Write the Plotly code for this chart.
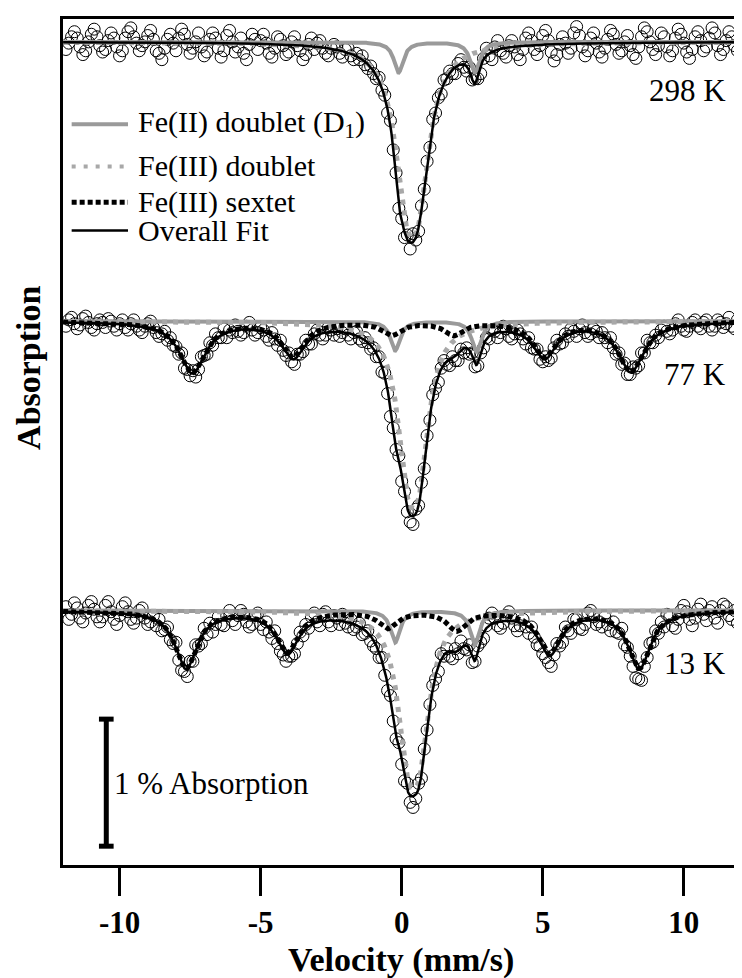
import numpy as np
import plotly.graph_objects as go

# ---------------- data ----------------
# velocity channels (mm/s): start and step of the measured points
V_START, V_STEP = -11.9, 0.1

# measured absorption of each spectrum, in units of 0.01 % (positive = absorption)
abs_298K = [
    6, 1, -4, -8, -3, 4, 10, 7, 0, -6, -10, -4, 3, 8, 6, -1, -7, -3, 4, 11, 7, -3, -8, -11, -4, 1, 7, 3,
    0, -5, -9, -2, 7, 9, 14, 5, -2, -6, 1, 7, -3, -10, -6, 2, 9, 5, 0, -7, 4, 11, 8, -2, -7, -3, 5, 12, 7, -5,
    -9, 0, 8, 4, -3, 9, 14, 2, -6, -2,
    6, -1, -6, 1, 9, 12, 5, -4, -2, 3, 10, 8, 0, -4, 3, 7, 14, 10, 2, -3,
    6, 1, -1, 5, 9, 11, 5, 2, 4, 9, 12, 6, 5, 11, 14, 9, 14, 11, 18, 21, 19, 25,
    29, 28, 38, 42, 56, 62, 85, 103, 131, 139, 154, 152, 163, 151, 156, 149, 129, 116, 94, 83, 61, 56, 44, 41, 30, 29,
    23, 25, 25, 17, 14, 20, 23, 20, 30, 29, 29, 25, 13, 5, 11, 14, 4, -1, 7, 9, 12, 3, -1, 4,
    10, 14, 6, -3, -7, -1, 6, 10, 3, -5, -9, -1, 8, 15, 10, 2, -4, 1, 9, 5,
    -7, -12, -5, 4, 11, 7, -3, -7, 1, 8, 12, 5, -2, -9, -6, 2, 9, 7, 0, -5,
    3, 10, 13, 4, -4, -11, -8, 0, 6, 10, 3, -7, -4, 4, 11, 7, -3, -10, -6, 1,
    8, 13, 6, -4, -8, -1, 7, 4, -3, -11, -7, 3, 10, 6, -1, -8, -4, 3, 7,
]
abs_77K = [
    4, -1, -3, 2, 6, 3, -2, -4, 1, 5, 7, 2, -1, 1, 5, -2, 0, 4, 7, 2,
    -1, 5, 7, 2, -1, 4, 7, 9, 4, 2, 0, 5, 9, 12, 10, 8, 15, 13, 19, 20,
    26, 25, 37, 38, 43, 39, 44, 38, 28, 27, 26, 17, 19, 10, 13, 13, 6, 13, 7, 9,
    3, 8, 11, 9, 4, 1, 7, 11, 9, 5, 7, 12, 15, 9, 14, 19, 15, 23, 27, 25,
    32, 34, 26, 26, 24, 15, 18, 18, 10, 7, 11, 14, 11, 5, 7, 11, 6, 12, 9, 6,
    11, 14, 9, 8, 14, 16, 13, 17, 22, 21,
    28, 28, 40, 41, 57, 75, 84, 101, 106, 126, 134, 150, 158, 160, 148, 145, 127, 116, 90, 78,
    58, 53, 48, 37, 31, 34, 35, 28, 31, 31, 22, 25, 21, 26, 25, 36, 35, 25, 21, 13,
    14, 7, 8, 13, 9, 4, 6, 12, 14, 10, 7, 10, 14, 18, 13, 21, 22, 22, 30, 32,
    28, 31, 29, 21, 15, 18, 17, 10, 12, 6, 8, 12, 6, 3, 9, 12, 10, 6, 8, 13,
    9, 13, 17, 13, 21, 26, 25, 34, 33, 42, 42, 36, 37, 35, 25, 25, 15, 17, 17, 11,
    13, 7, 4, 8, 10, 7, 2, -1, 4, 7, 8, 4, 1, -1, 4, 6, 1, -1, 4, 7,
    4, -1, 1, 5, 2, -3, 4, 6, -1,
]
abs_13K = [
    -3, 7, 3, -6, -2, 6, 9, 2, -4, -7, -1, 5, 9, 5, -4, -7, 1, 7, 11, 4,
    -3, -6, 1, 7, 10, 6, 0, -2, 6, 11, 9, 4, 12, 7, 16, 15, 13, 23, 26, 25,
    39, 47, 48, 52, 40, 40, 27, 28, 26, 14, 19, 10, 17, 11, 5, 11, 12, 4, 0, 8,
    11, 4, 0, 3, 9, 13, 11, 4, 2, 11, 15, 9, 17, 22, 16, 26, 32, 35, 40, 36,
    36, 34, 26, 17, 20, 11, 14, 5, 2, 9, 12, 3, 1, 9, 12, 4, 6, 11, 3, 10,
    13, 7, 15, 13, 10, 19, 18, 16, 24, 28,
    30, 37, 37, 51, 63, 67, 87, 101, 104, 121, 134, 136, 151, 155, 148, 136, 132, 109, 94, 74,
    59, 54, 48, 34, 36, 30, 36, 38, 30, 34, 24, 30, 31, 27, 41, 40, 28, 25, 22, 12,
    6, 2, 6, 12, 14, 10, 4, 1, 6, 12, 16, 12, 7, 13, 18, 13, 21, 27, 28, 34,
    37, 41, 44, 35, 26, 28, 25, 13, 16, 18, 7, 7, 14, 15, 11, 2, 0, 5, 11, 9,
    13, 5, 11, 16, 9, 17, 18, 14, 27, 29, 36, 44, 53, 54, 55, 44, 37, 26, 25, 16,
    18, 9, 13, 3, 5, 12, 14, 7, 0, -4, 1, 7, 12, 6, -1, -5, 3, 8, 0, -3,
    6, 10, 0, -5, -3, 4, 7, 0, 10,
]

# stacking offsets of the three spectra (in % absorption)
temps = ["298 K", "77 K", "13 K"]
offsets = [0.0, -2.198, -4.475]
label_y = [-0.380, -2.616, -4.890]

# Fitted Lorentzian components: line positions (mm/s), depths (0.01 %), half widths (mm/s)
feII_pos = [[-0.11, 2.59], [-0.23, 2.65], [-0.23, 2.59]]
feII_depth = [[24, 24], [23, 24], [25, 27]]
feII_hw = [[0.20, 0.20], [0.20, 0.20], [0.20, 0.20]]

feIIId_pos = [[0.15, 0.60], [0.20, 0.62], [0.20, 0.64]]
feIIId_depth = [[94, 94], [92, 92], [89, 89]]
feIIId_hw = [[0.48, 0.48], [0.42, 0.42], [0.42, 0.42]]

sext_pos = [[], [-7.42, -3.85, -0.35, 1.85, 5.06, 8.12], [-7.64, -4.05, -0.50, 1.95, 5.24, 8.42]]
sext_depth = [[], [40, 27, 10, 10, 27, 39], [45, 32, 13, 15, 33, 45]]
sext_hw = [[], [0.55, 0.50, 0.40, 0.40, 0.50, 0.55], [0.47, 0.47, 0.40, 0.40, 0.47, 0.47]]

# scale bar: 1 % absorption
scale_pct = 1.0
scale_top = -5.33
scale_x = -10.47

measured = [abs_298K, abs_77K, abs_13K]

# ---------------- figure ----------------
SERIF = "Times New Roman, Liberation Serif, serif"
v_fine = np.linspace(-12.0, 12.0, 1601)


def lorentz(v, pos, depth, hw):
    out = np.zeros_like(v)
    for p, d, w in zip(pos, depth, hw):
        out += d / (1.0 + ((v - p) / w) ** 2)
    return out


fig = go.Figure()
for k in range(3):
    off = offsets[k]
    vals = np.array(measured[k], dtype=float)
    vel = np.round(V_START + V_STEP * np.arange(len(vals)), 2)
    fig.add_trace(go.Scatter(
        x=vel, y=off - vals / 100.0, mode="markers",
        marker=dict(symbol="circle-open", size=12, color="black", line=dict(width=1)),
        hoverinfo="skip"))
    c_feII = lorentz(v_fine, feII_pos[k], feII_depth[k], feII_hw[k])
    c_feIIId = lorentz(v_fine, feIIId_pos[k], feIIId_depth[k], feIIId_hw[k])
    c_sext = lorentz(v_fine, sext_pos[k], sext_depth[k], sext_hw[k])
    total = c_feII + c_feIIId + c_sext
    fig.add_trace(go.Scatter(x=v_fine, y=off - c_feII / 100.0, mode="lines",
                             line=dict(color="#9a9a9a", width=4)))
    fig.add_trace(go.Scatter(x=v_fine, y=off - c_feIIId / 100.0, mode="lines",
                             line=dict(color="#a8a8a8", width=5, dash="5px,6px")))
    fig.add_trace(go.Scatter(x=v_fine, y=off - total / 100.0, mode="lines",
                             line=dict(color="black", width=2.5)))
    if len(sext_pos[k]):
        fig.add_trace(go.Scatter(x=v_fine, y=off - c_sext / 100.0, mode="lines",
                                 line=dict(color="black", width=5, dash="5px,3px")))

# scale bar
fig.add_trace(go.Scatter(x=[scale_x, scale_x], y=[scale_top, scale_top - scale_pct],
                         mode="lines", line=dict(color="black", width=5)))
for yy in (scale_top, scale_top - scale_pct):
    fig.add_trace(go.Scatter(x=[scale_x - 0.26, scale_x + 0.26], y=[yy, yy],
                             mode="lines", line=dict(color="black", width=5)))

annotations = []
for k, t in enumerate(temps):
    annotations.append(dict(x=11.58, y=label_y[k], xref="x", yref="y", text=t, showarrow=False,
                            xanchor="right", yanchor="middle",
                            font=dict(family=SERIF, size=31, color="black")))
annotations.append(dict(x=-10.28, y=scale_top - scale_pct / 2 - 0.01, xref="x", yref="y",
                        text="1 % Absorption", showarrow=False, xanchor="left", yanchor="middle",
                        font=dict(family=SERIF, size=31, color="black")))

# page pixel -> paper coordinates (plot area spans x 63..742, y 16..865 on the page)
PL, PW, PB, PH = 63, 679, 865, 849
def px(x):
    return (x - PL) / PW
def py(y):
    return (PB - y) / PH

legend_rows = [
    ("Fe(II) doublet (D<sub>1</sub>)", 121.7, dict(color="#9a9a9a", width=4)),
    ("Fe(III) doublet", 164.0, dict(color="#a8a8a8", width=4, dash="4px,8px")),
    ("Fe(III) sextet", 200.0, dict(color="black", width=5, dash="5px,3px")),
    ("Overall Fit", 228.3, dict(color="black", width=2.5)),
]
shapes = []
for label, yy, ln in legend_rows:
    shapes.append(dict(type="line", xref="paper", yref="paper", x0=px(71.7), x1=px(128.3),
                       y0=py(yy), y1=py(yy), line=ln))
    annotations.append(dict(x=px(136.5), y=py(yy), xref="paper", yref="paper", text=label,
                            showarrow=False, xanchor="left", yanchor="middle",
                            font=dict(family=SERIF, size=30, color="black")))

annotations.append(dict(x=px(402.7), y=py(960), xref="paper", yref="paper",
                        text="<b>Velocity (mm/s)</b>", showarrow=False,
                        xanchor="center", yanchor="middle",
                        font=dict(family=SERIF, size=34, color="black")))
annotations.append(dict(x=px(29), y=py(366), xref="paper", yref="paper",
                        text="<b>Absorption</b>", showarrow=False, textangle=-90,
                        xanchor="center", yanchor="middle",
                        font=dict(family=SERIF, size=34, color="black")))

# the page body adds an 8 px offset, so the figure margins are reduced by 8 px
fig.update_layout(
    width=742, height=978,
    margin=dict(l=55, r=8, t=8, b=121, pad=0),
    paper_bgcolor="white", plot_bgcolor="white",
    showlegend=False,
    annotations=annotations, shapes=shapes,
    xaxis=dict(range=[-12.004, 11.955], showline=True, linecolor="black", linewidth=3,
               mirror=True, ticks="outside", ticklen=28, tickwidth=3, tickcolor="black",
               tickvals=[-10, -5, 0, 5, 10], ticktext=["-10", "-5", "0", "5", "10"],
               tickfont=dict(family=SERIF, size=31, color="black", weight="bold"),
               showgrid=False, zeroline=False),
    yaxis=dict(range=[-6.478, 0.180], showline=True, linecolor="black", linewidth=3,
               mirror=True, showticklabels=False, ticks="",
               showgrid=False, zeroline=False),
)

fig.write_html("out.html")
